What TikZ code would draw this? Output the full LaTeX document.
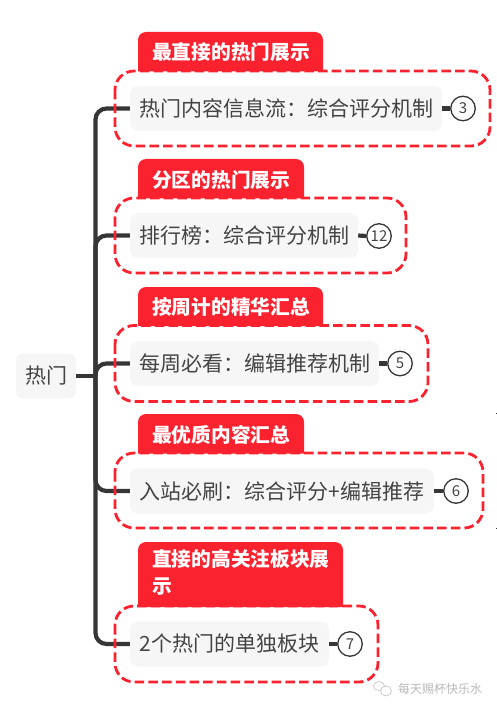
\documentclass[tikz,border=0pt]{standalone}
\usepackage{fontspec}
\setmainfont{Noto Sans CJK SC}
\definecolor{redc}{HTML}{FB2230}
\definecolor{darkc}{HTML}{363636}
\definecolor{txtc}{HTML}{444444}
\definecolor{boxc}{HTML}{F6F6F6}
\tikzset{
  conn/.style={draw=darkc,line width=4.2pt,rounded corners=11pt},
  topic/.style={fill=boxc,rounded corners=8pt,text=txtc,inner sep=0pt,font=\fontsize{21pt}{24pt}\selectfont,minimum height=45pt},
  zone/.style={draw=redc,line width=2.8pt,rounded corners=19pt,dash pattern=on 9.5pt off 4.2pt},
  tabshape/.style={fill=redc},
  tabtext/.style={text=white,font=\fontsize{19.7pt}{27pt}\selectfont\bfseries,inner sep=0pt,align=left},
  badge/.style={circle,draw=darkc,fill=white,line width=1.3pt,minimum size=24.5pt,inner sep=0pt,text=txtc,font=\fontsize{15pt}{16pt}\selectfont},
}
\begin{document}
\begin{tikzpicture}[x=1pt,y=-1pt]
\useasboundingbox[fill=white] (0,0) rectangle (497,711);
% nodes
\node[topic,minimum width=60pt] (root) at (46,376) {热门};
\node[topic,minimum width=312pt] (n1) at (286,108.5) {热门内容信息流：综合评分机制};
\node[topic,minimum width=228pt] (n2) at (244,235.5) {排行榜：综合评分机制};
\node[topic,minimum width=249pt] (n3) at (254.5,363.5) {每周必看：编辑推荐机制};
\node[topic,minimum width=304pt] (n4) at (282,491) {入站必刷：综合评分+编辑推荐};
\node[topic,minimum width=199pt] (n5) at (229.5,644) {2个热门的单独板块};
\coordinate (j) at (95.5,376);
% connectors
\draw[conn] (root.east) -- (j);
\draw[conn] (j) |- (n1.west);
\draw[conn] (j) |- (n2.west);
\draw[conn] (j) |- (n3.west);
\draw[conn] (j) |- (n4.west);
\draw[conn] (j) |- (n5.west);
\node[badge] (c1) at (463,108.5) {3};
\node[badge] (c2) at (379,236) {12};
\node[badge] (c3) at (400,363.5) {5};
\node[badge] (c4) at (456,491) {6};
\node[badge] (c5) at (350,644) {7};
\draw[conn] (n1.east) -- (c1.west);
\draw[conn] (n2.east) -- (c2.west);
\draw[conn] (n3.east) -- (c3.west);
\draw[conn] (n4.east) -- (c4.west);
\draw[conn] (n5.east) -- (c5.west);
% zones
\draw[zone] (115,71) rectangle (490,146);
\draw[zone] (115,198) rectangle (406,273);
\draw[zone] (115,325.5) rectangle (428,401.5);
\draw[zone] (115,453) rectangle (483,528);
\draw[zone] (115,606) rectangle (378,682);
% tabs
\fill[tabshape] (138,71.5) [rounded corners=8pt] -- (138,32) -- (323,32) [sharp corners] -- (323,71.5) -- cycle;
\fill[tabshape] (138,198.5) [rounded corners=8pt] -- (138,159) -- (304,159) [sharp corners] -- (304,198.5) -- cycle;
\fill[tabshape] (138,326) [rounded corners=8pt] -- (138,287) -- (323,287) [sharp corners] -- (323,326) -- cycle;
\fill[tabshape] (138,453.5) [rounded corners=8pt] -- (138,414) -- (304,414) [sharp corners] -- (304,453.5) -- cycle;
\fill[tabshape] (138,607) [rounded corners=8pt] -- (138,542) -- (343,542) [sharp corners] -- (343,607) -- cycle;
\node[tabtext,anchor=west] (t1) at (152,52) {最直接的热门展示};
\node[tabtext,anchor=west] (t2) at (152,180) {分区的热门展示};
\node[tabtext,anchor=west] (t3) at (152,307) {按周计的精华汇总};
\node[tabtext,anchor=west] (t4) at (152,435) {最优质内容汇总};
\node[tabtext,anchor=north west] (t5) at (152,549) {直接的高关注板块展\\示};
% watermark
\draw[gray!50,line width=.6pt] (379,686) ellipse (5.5pt and 4.5pt);
\draw[gray!50,line width=.6pt,fill=white] (386,691) ellipse (5.5pt and 5pt);
\node[text=gray!55,inner sep=0pt,anchor=west,font=\fontsize{12pt}{14pt}\selectfont] (wm) at (398,689) {每天赐杯快乐水};
% stray marks at right edge
\fill[darkc] (495.5,412.5) rectangle (497,414);
\fill[darkc] (495.5,527.5) rectangle (497,529);
\end{tikzpicture}
\end{document}
